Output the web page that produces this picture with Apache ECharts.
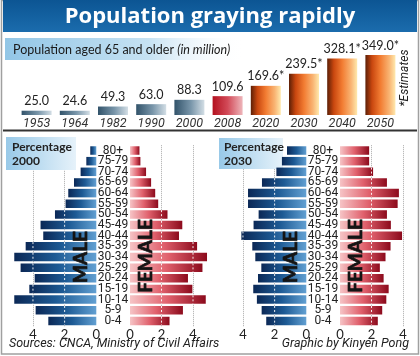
<!DOCTYPE html>
<html><head><meta charset="utf-8">
<script src="https://cdn.jsdelivr.net/npm/echarts@6/dist/echarts.min.js"></script>
<style>html,body{margin:0;padding:0;background:#fff}#c{width:420px;height:356px}</style>
</head><body><div id="c"></div>
<script>
// ---- data ----
const years = ['1953','1964','1982','1990','2000','2008','2020','2030','2040','2050'];
const elderly = [25.0, 24.6, 49.3, 63.0, 88.3, 109.6, 169.6, 239.5, 328.1, 349.0];
const estimated = [false,false,false,false,false,false,true,true,true,true];
const highlightYear = '2008';
const ages = ['80+','75-79','70-74','65-69','60-64','55-59','50-54','45-49','40-44','35-39','30-34','25-29','20-24','15-19','10-14','5-9','0-4'];
const male2000   = [0.38,0.63,0.99,1.41,1.77,1.94,2.61,3.52,3.35,4.46,5.18,4.78,3.89,4.23,5.18,3.83,3.03];
const female2000 = [0.60,0.66,1.02,1.34,1.60,1.79,2.38,3.32,3.11,4.26,4.89,4.60,3.68,3.96,4.81,3.36,2.51];
const male2030   = [1.22,1.54,1.89,2.80,3.68,3.68,3.01,3.33,4.10,3.41,3.22,2.84,3.05,3.35,3.12,2.82,2.53];
const female2030 = [1.85,1.85,2.10,2.98,3.74,3.66,2.98,3.23,3.94,3.21,2.89,2.53,2.77,3.09,2.94,2.68,2.40];
const pyramidTicks = [0, 2, 4];

// ---- styles ----
const NARROW = '"Liberation Sans Narrow", Roboto, sans-serif';
const LATO = 'Lato, "Noto Sans", sans-serif';
function lin(stops, vertical) {
  return {type:'linear', x:0, y:0, x2: vertical ? 0 : 1, y2: vertical ? 1 : 0,
    colorStops: stops.map(s => ({offset:s[0], color:s[1]}))};
}
const histGrad = lin([[0,'#32536a'],[0.55,'#7996aa'],[1,'#d3dee5']]);
const redGrad = lin([[0,'#b3111f'],[0.5,'#d24a58'],[1,'#eeb6bb']]);
const orangeGrad = lin([[0,'#5c1f06'],[0.22,'#c9470f'],[0.5,'#f27c32'],[0.8,'#f9b574'],[1,'#ffe9ad']]);
const maleGrad = lin([[0,'#0b2856'],[0.5,'#1d5a94'],[1,'#62a0d2']]);
const femaleGrad = lin([[0,'#f6c4c6'],[0.5,'#e0606c'],[1,'#8c0a1c']]);
function barColor(i) {
  if (estimated[i]) return orangeGrad;
  if (years[i] === highlightYear) return redGrad;
  return histGrad;
}

function dashRender(params, api) {
  const v = api.value(0), c = api.value(1);
  const h = api.size([0, 1])[1] * 0.8;
  const children = [];
  pyramidTicks.forEach(t => {
    if (t > 0 && v > t + 0.05) {
      const p = api.coord([t, c]);
      children.push({type:'line', shape:{x1:p[0], y1:p[1]-h/2, x2:p[0], y2:p[1]+h/2},
        style:{stroke:'rgba(255,255,255,0.9)', lineWidth:1, lineDash:[2,2]}});
    }
  });
  return {type:'group', children};
}
function pxAxis(gi, max, inverse) {
  return {gridIndex:gi, type:'value', min:0, max:max, interval:2, inverse:inverse,
    axisLine:{show:false}, axisTick:{show:false},
    axisLabel:{margin:2, fontFamily:LATO, fontSize:13, color:'#222',
      formatter: v => pyramidTicks.includes(v) ? String(v) : ''},
    splitLine:{show:true, showMinLine:false, showMaxLine:false,
      lineStyle:{color:'#aaa', type:'dotted', width:1}}};
}
function pyAxis(gi, labels) {
  return {gridIndex:gi, type:'category', data:ages, inverse:true,
    axisLine:{show:false}, axisTick:{show:false}, splitLine:{show:false},
    axisLabel: labels ? {show:true, interval:0, align:'center', margin:17,
      fontFamily:NARROW, fontSize:12, color:'#222'} : {show:false}};
}
function pyramid(gi, data, grad) {
  return [
    {type:'bar', xAxisIndex:gi, yAxisIndex:gi, data:data, barWidth:8.5,
      itemStyle:{color:grad}, silent:true, z:2},
    {type:'custom', xAxisIndex:gi, yAxisIndex:gi, data:data.map((v,i)=>[v,i]),
      encode:{x:0, y:1}, renderItem:dashRender, silent:true, z:3}
  ];
}
const PT = 145.2, PH = 181;
function txt(x, y, text, font, extra) {
  return Object.assign({type:'text', x:x, y:y, z:10,
    style:{text:text, font:font, fill:'#222', textAlign:'left', textVerticalAlign:'middle'}}, extra || {});
}
function sexLabel(x, y, text) {
  return {type:'text', x:x, y:y, z:10, rotation:Math.PI/2,
    style:{text:text, font:'bold 19px ' + LATO, fill:'#141414', stroke:'#141414', lineWidth:0.7,
      textAlign:'center', textVerticalAlign:'middle'}};
}

const chart = echarts.init(document.getElementById('c'), null, {renderer:'canvas'});
chart.setOption({
  animation:false,
  backgroundColor:'#fff',
  grid:[
    {left:17.5, right:20.5, top:55, height:60, outerBoundsMode:'none'},
    {left:9.2, width:87.1, top:PT, height:PH, outerBoundsMode:'none'},
    {left:130, width:81.9, top:PT, height:PH, outerBoundsMode:'none'},
    {left:219.2, width:87.1, top:PT, height:PH, outerBoundsMode:'none'},
    {left:340, width:75.6, top:PT, height:PH, outerBoundsMode:'none'}
  ],
  xAxis:[
    {gridIndex:0, type:'category', data:years, axisLine:{show:false}, axisTick:{show:false},
      axisLabel:{margin:2, fontFamily:NARROW, fontStyle:'italic', fontSize:12.5, color:'#333'}},
    pxAxis(1, 5.5, true), pxAxis(2, 5.2, false), pxAxis(3, 5.5, true), pxAxis(4, 4.8, false)
  ],
  yAxis:[
    {gridIndex:0, type:'value', min:0, max:349, show:false},
    pyAxis(1, false), pyAxis(2, true), pyAxis(3, false), pyAxis(4, true)
  ],
  series:[
    {type:'bar', xAxisIndex:0, yAxisIndex:0, barWidth:30, silent:true,
      data: elderly.map((v,i) => ({value:v, itemStyle:{color:barColor(i)}})),
      label:{show:true, position:'top', distance:3, fontFamily:LATO, fontSize:12.5, color:'#222',
        formatter: p => p.value.toFixed(1) + (estimated[p.dataIndex] ? '*' : '')}}
  ].concat(pyramid(1, male2000, maleGrad), pyramid(2, female2000, femaleGrad),
           pyramid(3, male2030, maleGrad), pyramid(4, female2030, femaleGrad)),
  graphic:[
    {type:'rect', z:0, shape:{x:1.5, y:0.5, width:417, height:353.5}, style:{fill:'#fff', stroke:'#a0a0a0', lineWidth:1.5}},
    {type:'rect', z:1, shape:{x:3, y:0, width:414, height:32}, style:{fill:lin([[0,'#0c5593'],[1,'#1b6cad']], true)}},
    txt(210, 17, 'Population graying rapidly', 'bold 22px "Open Sans"', {style:{text:'Population graying rapidly', font:'bold 22px "Open Sans"', fill:'#fff', textAlign:'center', textVerticalAlign:'middle'}}),
    {type:'rect', z:1, shape:{x:5, y:38, width:240, height:22}, style:{fill:lin([[0,'#92c6e6'],[0.6,'#c6e2f3'],[1,'rgba(255,255,255,0)']])}},
    {type:'text', x:13, y:50, z:10, style:{text:'{a|Population aged 65 and older }{b|(in million)}',
      textVerticalAlign:'middle', rich:{
        a:{fontFamily:LATO, fontSize:12.5, fill:'#1a1a1a'},
        b:{fontFamily:LATO, fontSize:12.5, fontStyle:'italic', fill:'#1a1a1a'}}}},
    txt(405, 78, '*Estimates', 'italic 12px ' + NARROW, {rotation:Math.PI/2,
      style:{text:'*Estimates', font:'italic 12px ' + NARROW, fill:'#222', textAlign:'center', textVerticalAlign:'middle'}}),
    {type:'line', z:5, shape:{x1:3, y1:130.5, x2:417, y2:130.5}, style:{stroke:'#333', lineWidth:2}},
    {type:'rect', z:1, shape:{x:6, y:137, width:70, height:33}, style:{fill:lin([[0,'#98c9e8'],[1,'#e6f2fa']])}},
    {type:'rect', z:1, shape:{x:219, y:138, width:64, height:31}, style:{fill:lin([[0,'#98c9e8'],[1,'#e6f2fa']])}},
    txt(12, 147.5, 'Percentage', 'bold 12px ' + LATO),
    txt(12, 161, '2000', 'bold 12px ' + LATO),
    txt(224, 147.5, 'Percentage', 'bold 12px ' + LATO),
    txt(224, 161, '2030', 'bold 12px ' + LATO),
    sexLabel(81, 257, 'MALE'),
    sexLabel(146, 256, 'FEMALE'),
    sexLabel(291, 257, 'MALE'),
    sexLabel(356, 256, 'FEMALE'),
    txt(9, 344, 'Sources: CNCA, Ministry of Civil Affairs', 'italic 12.5px ' + NARROW),
    txt(409, 344, 'Graphic by Kinyen Pong', 'italic 12.5px ' + NARROW, {style:{text:'Graphic by Kinyen Pong', font:'italic 12.5px ' + NARROW, fill:'#222', textAlign:'right', textVerticalAlign:'middle'}})
  ]
});
</script></body></html>
